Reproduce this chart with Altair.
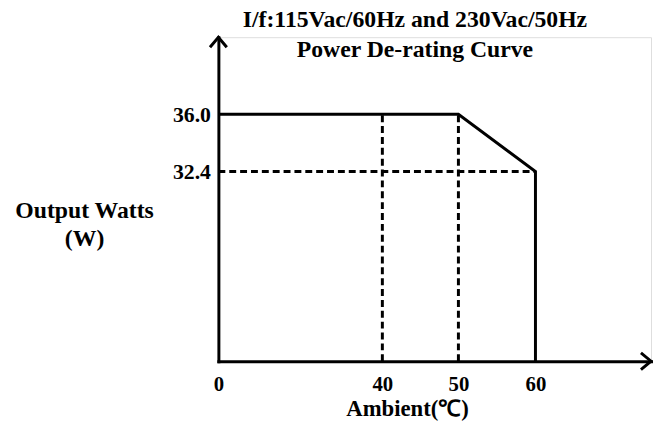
import altair as alt
import pandas as pd

# ---- data ----
curve_x = [0, 50, 60, 60]
curve_y = [36.0, 36.0, 32.4, 0.0]
vguide_x = [40, 50]
vguide_top = [36.0, 36.0]
vguide_bottom = [0.0, 0.0]
hguide_y = [32.4]
hguide_start = [0]
hguide_end = [60]
x_ticks = [0, 40, 50, 60]
y_ticks = [32.4, 36.0]
x_axis_end = 77
y_axis_end = 47

FONT = "Liberation Serif"

curve = pd.DataFrame({"x": curve_x, "y": curve_y, "o": list(range(len(curve_x)))})
vguide = pd.DataFrame({"x": vguide_x, "y": vguide_bottom, "y2": vguide_top})
hguide = pd.DataFrame({"x": hguide_start, "x2": hguide_end, "y": hguide_y})
up_arrow = pd.DataFrame({"x": [0], "y": [y_axis_end]})
right_arrow = pd.DataFrame({"x": [x_axis_end], "y": [0]})

x_scale = alt.Scale(domain=[0, 40, 50, 60, x_axis_end], range=[0, 166, 243, 321, 438],
                    nice=False, zero=False)
y_scale = alt.Scale(domain=[0, 32.4, 36.0, y_axis_end], range=[328, 136, 78, 0],
                    nice=False, zero=False)

x_axis = alt.Axis(values=x_ticks, grid=False, ticks=False, domainColor="black", domainWidth=3,
                  domainCap="square",
                  labelFont=FONT, labelFontSize=21, labelFontWeight="bold", labelColor="black",
                  labelPadding=13, labelFlush=False,
                  title="Ambient(℃)", titleFont=FONT, titleFontSize=23, titleFontWeight="bold",
                  titleColor="black", titleX=191, titleY=55, titleBaseline="alphabetic",
                  titleAnchor="middle", titleAlign="center")
y_axis = alt.Axis(values=y_ticks, format=".1f", grid=False, ticks=False, domainColor="black",
                  domainWidth=3, domainCap="square",
                  labelFont=FONT, labelFontSize=22, labelFontWeight="bold", labelColor="black",
                  labelPadding=8, labelFlush=False,
                  title=["Output Watts", "(W)"], titleFont=FONT, titleFontSize=24,
                  titleFontWeight="bold", titleColor="black", titleAngle=0, titleX=-136,
                  titleY=183, titleAlign="center", titleBaseline="alphabetic", titleLineHeight=28)

X = alt.X("x:Q", scale=x_scale, axis=x_axis)
Y = alt.Y("y:Q", scale=y_scale, axis=y_axis)

vlines = alt.Chart(vguide).mark_rule(color="black", strokeWidth=3, strokeDash=[7, 4]).encode(
    x=X, y=Y, y2="y2:Q")
hlines = alt.Chart(hguide).mark_rule(color="black", strokeWidth=3, strokeDash=[7, 4]).encode(
    x=X, x2="x2:Q", y=Y)
line = alt.Chart(curve).mark_line(color="black", strokeWidth=3, strokeJoin="miter").encode(
    x=X, y=Y, order="o:Q")
up = alt.Chart(up_arrow).mark_point(shape="M-1,1.2L0,0L1,1.2", filled=False, size=289,
                                    strokeWidth=3, color="black", opacity=1).encode(x=X, y=Y)
right = alt.Chart(right_arrow).mark_point(shape="M-1.2,-1L0,0L-1.2,1", filled=False, size=289,
                                          strokeWidth=3, color="black", opacity=1).encode(x=X, y=Y)

chart = alt.layer(vlines, hlines, line, up, right).properties(
    width=438, height=328,
    autosize=alt.AutoSizeParams(type="none"),
    padding={"left": 213, "top": 27, "right": 2, "bottom": 62},
    title=alt.TitleParams(text=["I/f:115Vac/60Hz and 230Vac/50Hz", "Power De-rating Curve"],
                          font=FONT, fontSize=24, fontWeight="bold", color="black",
                          anchor="middle", dx=-20, baseline="alphabetic", lineHeight=30,
                          offset=-50),
).configure_view(stroke=None).configure(background="white")

chart.save("out.html", embed_options={"renderer": "svg", "actions": False})
